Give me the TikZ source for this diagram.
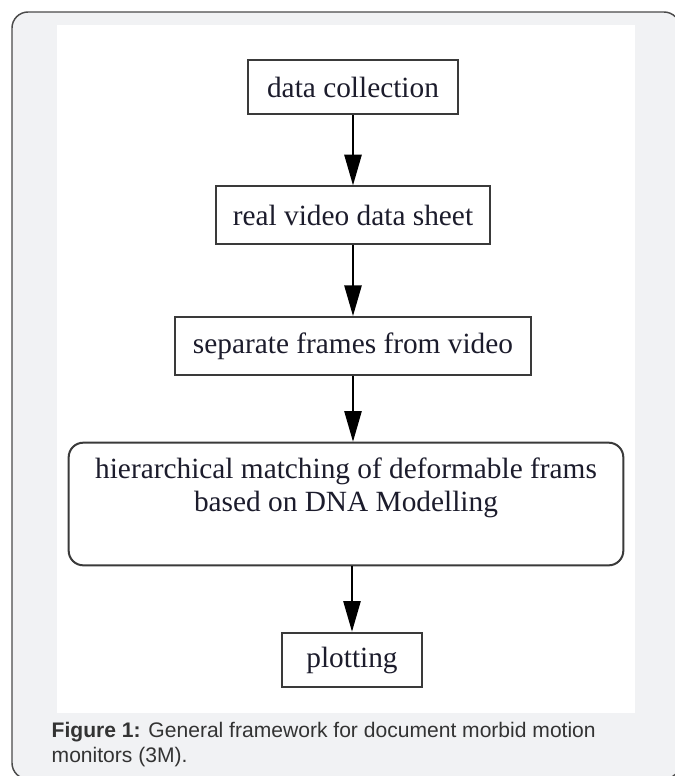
\documentclass[tikz,border=0pt]{standalone}
\usepackage{fontspec}
\setmainfont{Liberation Serif}
\newfontfamily\capfont{Liberation Sans}
\usetikzlibrary{arrows.meta}
\definecolor{panelgrey}{HTML}{F1F2F4}
\definecolor{rimgrey}{HTML}{4A4A4A}
\definecolor{boxline}{HTML}{3A3A3A}
\definecolor{boxtext}{HTML}{1C1C2C}
\definecolor{captext}{HTML}{333333}
\begin{document}
\begin{tikzpicture}[x=0.75pt,y=-0.75pt,
stage/.style={draw=boxline,line width=1.5pt,fill=white,inner sep=0pt,text=boxtext,font=\fontsize{22}{25}\selectfont,align=center},
stageround/.style={stage,rounded corners=11pt},
flow/.style={-{Triangle[length=23pt,width=13pt]},line width=1.2pt,draw=black}]
\useasboundingbox (0,0) rectangle (675,776);
\draw[rounded corners=12pt,fill=panelgrey,draw=rimgrey,line width=1.1pt] (12,12) rectangle (680,779);
\fill[white] (57,25) rectangle (635,713);
\node[stage,minimum width=157.5pt,minimum height=41pt] (collect) at (353,87) {data collection};
\node[stage,minimum width=206pt,minimum height=43pt] (sheet) at (353,215) {real video data sheet};
\node[stage,minimum width=267pt,minimum height=43.5pt] (frames) at (353,346) {separate frames from video};
\node[stageround,minimum width=416pt,minimum height=92pt] (matching) at (346,504) {};
\node[text=boxtext,font=\fontsize{22}{25}\selectfont,align=center] (matchtext) at (346,488) {hierarchical matching of deformable frams\\based on DNA Modelling};
\node[stage,minimum width=105pt,minimum height=41pt] (plotting) at (352,660) {plotting};
\draw[flow] (collect) -- (sheet);
\draw[flow] (sheet) -- (frames);
\draw[flow] (frames) -- (frames |- matching.north);
\draw[flow] (matching.south -| plotting) -- (plotting);
\node[anchor=base west,text=captext,font=\capfont\fontsize{15.8}{18.75}\selectfont,align=left] (caption) at (47,762) {\textbf{Figure 1:} General framework for document morbid motion\\monitors (3M).};
\end{tikzpicture}
\end{document}
